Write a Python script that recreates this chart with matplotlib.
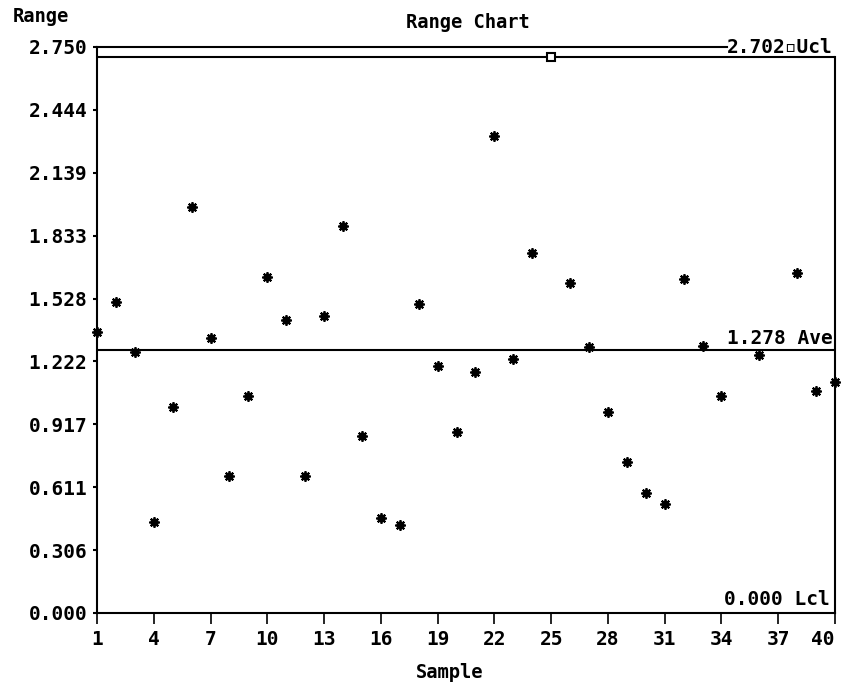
import numpy as np
import matplotlib
matplotlib.use("Agg")
import matplotlib.pyplot as plt

# sample ranges (nan = not plotted)
samples = np.arange(1, 41)
ranges = [1.365, 1.511, 1.268, 0.442, 1.001, 1.973, 1.336, 0.666, 1.054, 1.633,
          1.424, 0.666, 1.443, 1.880, 0.860, 0.462, 0.428, 1.501, 1.200, 0.880,
          1.171, 2.318, 1.234, 1.749, 2.702, 1.603, 1.293, 0.977, 0.734, 0.583,
          0.530, 1.623, 1.297, 1.054, np.nan, 1.254, np.nan, 1.652, 1.079, 1.122]
flagged = [25]  # points sitting on the Ucl

ucl = 2.702
ave = 1.278
lcl = 0.000

yticks = [0.000, 0.306, 0.611, 0.917, 1.222, 1.528, 1.833, 2.139, 2.444, 2.750]
xticks = list(range(1, 41, 3))

plt.rcParams['font.family'] = ['DejaVu Sans Mono']
plt.rcParams['font.weight'] = 'bold'
fs = 14

fig = plt.figure(figsize=(8.41, 6.89), dpi=100)
ax = fig.add_axes([97 / 841, 76 / 689, 738 / 841, 566 / 689])
ax.set_xlim(1, 40)
ax.set_ylim(0, yticks[-1])

ranges = np.array(ranges)
is_flag = np.isin(samples, flagged)
normal = np.where(is_flag, np.nan, ranges)
ax.plot(samples, normal, ls='none', marker=(8, 2, 0), ms=7.5, mew=1.3,
        color='black', clip_on=False, zorder=4)
ax.plot(samples, normal, ls='none', marker='s', ms=4, color='black',
        clip_on=False, zorder=4)
ax.plot(samples[is_flag], ranges[is_flag], ls='none', marker='s', ms=6,
        mfc='white', mec='black', mew=1.5, zorder=5)

# control limits
ax.axhline(ucl, color='black', lw=1.5, zorder=3)
ax.axhline(ave, color='black', lw=1.5, zorder=3)

ytr = ax.get_yaxis_transform()
ucl_txt = ax.text(0.997, ucl + 0.045, "2.702\u25ab" + "Ucl", transform=ytr,
                  ha='right', va='center', fontsize=fs, fontweight='bold', zorder=6)
ax.text(0.997, ave + 0.055, "1.278 Ave", transform=ytr,
        ha='right', va='center', fontsize=fs, fontweight='bold', zorder=6)
ax.text(0.993, lcl + 0.065, "0.000 Lcl", transform=ytr,
        ha='right', va='center', fontsize=fs, fontweight='bold', zorder=6)

for s in ['left', 'bottom', 'right']:
    ax.spines[s].set_linewidth(1.5)
ax.spines['top'].set_visible(False)
ax.spines['right'].set_bounds(0, ucl)

ax.set_yticks(yticks)
ax.set_yticklabels([f"{v:.3f}" for v in yticks], fontsize=fs, fontweight='bold')
ax.set_xticks(xticks)
ax.set_xticklabels([str(v) for v in xticks], fontsize=fs, fontweight='bold')
ax.get_xticklabels()[-1].set_horizontalalignment('right')
ax.tick_params(axis='y', direction='out', length=3, width=1.5, pad=4)
ax.tick_params(axis='x', direction='out', length=8, width=1.2, pad=4)

fig.text(13 / 841, 1 - 17 / 689, "Range", ha='left', va='center',
         fontsize=13.5, fontweight='bold')
fig.text(468 / 841, 1 - 22 / 689, "Range Chart", ha='center', va='center',
         fontsize=13.5, fontweight='bold')
fig.text(450 / 841, 1 - 672 / 689, "Sample", ha='center', va='center',
         fontsize=13.5, fontweight='bold')

# top frame line runs up to the Ucl label
fig.canvas.draw()
bb = ucl_txt.get_window_extent().transformed(ax.transAxes.inverted())
ax.axhline(yticks[-1], xmax=bb.x0, color='black', lw=1.5, clip_on=False)

fig.savefig("out.png", dpi=100, facecolor='white')
